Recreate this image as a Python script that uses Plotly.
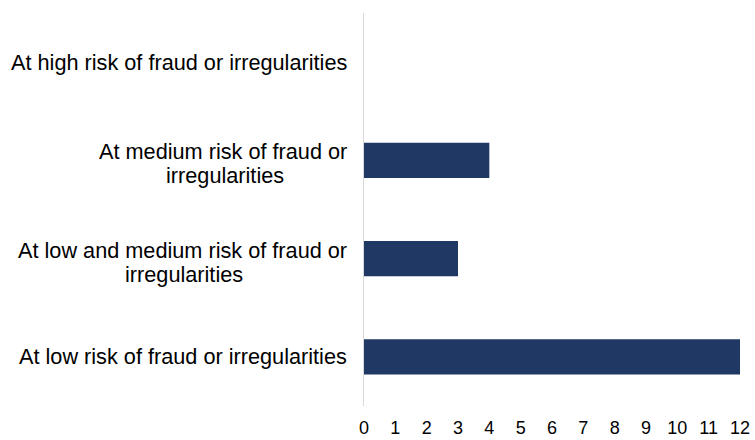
import plotly.graph_objects as go

categories = [
    "At high risk of fraud or irregularities",
    "At medium risk of fraud or<br>irregularities",
    "At low and medium risk of fraud or<br>irregularities",
    "At low risk of fraud or irregularities",
]
values = [0, 4, 3, 12]
tick_vals = list(range(0, 13))

bar_color = "#203864"
font_family = "Liberation Sans, Arial, sans-serif"
label_size = 21.7

# Arial advance widths (per 1000 em) used to center wrapped second lines
ARIAL_W = {
    " ": 278, "A": 667, "a": 556, "b": 556, "c": 500, "d": 556, "e": 556,
    "f": 278, "g": 556, "h": 556, "i": 222, "k": 500, "l": 222, "m": 833,
    "n": 556, "o": 556, "r": 333, "s": 500, "t": 278, "u": 556, "w": 722,
    "y": 500,
}


def text_width(s, size):
    return sum(ARIAL_W.get(ch, 556) for ch in s) * size / 1000.0


fig = go.Figure()
fig.add_trace(go.Bar(
    x=values,
    y=categories,
    orientation="h",
    marker=dict(color=bar_color, line=dict(width=0)),
    hoverinfo="skip",
))

right_gap = 15
annotations = []
for c in categories:
    lines = c.split("<br>")
    if len(lines) == 1:
        annotations.append(dict(
            x=0, xref="paper", y=c, yref="y", text=lines[0],
            showarrow=False, xanchor="right", yanchor="middle",
            xshift=-right_gap,
            font=dict(family=font_family, size=label_size, color="#000000"),
        ))
    else:
        w1 = text_width(lines[0], label_size)
        annotations.append(dict(
            x=0, xref="paper", y=c, yref="y", text=lines[0],
            showarrow=False, xanchor="right", yanchor="middle",
            xshift=-right_gap, yshift=8.5,
            font=dict(family=font_family, size=label_size, color="#000000"),
        ))
        annotations.append(dict(
            x=0, xref="paper", y=c, yref="y", text=lines[1],
            showarrow=False, xanchor="center", yanchor="middle",
            xshift=-right_gap - w1 / 2.0, yshift=-15.5,
            font=dict(family=font_family, size=label_size, color="#000000"),
        ))

fig.update_layout(
    width=755, height=440,
    margin=dict(l=364, r=15, t=13, b=33.5, autoexpand=False),
    paper_bgcolor="white", plot_bgcolor="white",
    showlegend=False,
    bargap=0.64,
    annotations=annotations,
    font=dict(family=font_family, size=18, color="#000000"),
    xaxis=dict(
        range=[0, 12], tickvals=tick_vals,
        showgrid=False, zeroline=False, showline=False,
        ticks="", tickfont=dict(size=18, color="#000000"),
        ticklabelstandoff=9, automargin=False,
        fixedrange=True,
    ),
    yaxis=dict(
        autorange="reversed", showticklabels=False,
        showgrid=False, zeroline=False, automargin=False,
        showline=True, linecolor="#d9d9d9", linewidth=1,
        ticks="", fixedrange=True,
    ),
)

fig.write_html(
    "out.html",
    config={"displayModeBar": False},
    post_script="document.body.style.margin='0';document.body.style.overflow='hidden';",
)
